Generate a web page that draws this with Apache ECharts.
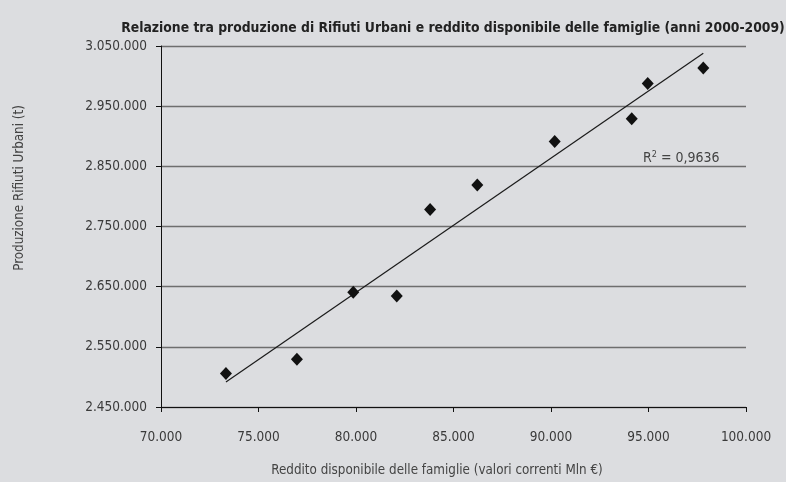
<!DOCTYPE html>
<html>
<head>
<meta charset="utf-8">
<script src="https://cdn.jsdelivr.net/npm/echarts@6/dist/echarts.min.js"></script>
<style>
  html, body { margin: 0; padding: 0; background: #dcdde0; }
  #chart { width: 786px; height: 482px; }
</style>
</head>
<body>
<div id="chart"></div>
<script>
// reddito disponibile (Mln €) e produzione RU (t), anni 2000-2009
const reddito = [73330, 76970, 79860, 82090, 83800, 86220, 90190, 94140, 94960, 97810]
const rifiuti = [2505700, 2529500, 2640700, 2634500, 2778300, 2819000, 2891200, 2929000, 2987800, 3013300]
const r2Label = '0,9636'

const FONT = '"Liberation Sans Narrow", "DejaVu Sans Condensed", "Roboto", sans-serif'

// linear trend (least squares) over the data range
const n = reddito.length
const mx = reddito.reduce((a, b) => a + b, 0) / n
const my = rifiuti.reduce((a, b) => a + b, 0) / n
let sxy = 0, sxx = 0
for (let i = 0; i < n; i++) {
  sxy += (reddito[i] - mx) * (rifiuti[i] - my)
  sxx += (reddito[i] - mx) ** 2
}
const slope = sxy / sxx
const xMin = Math.min(...reddito)
const xMax = Math.max(...reddito)
const trend = [[xMin, my + slope * (xMin - mx)], [xMax, my + slope * (xMax - mx)]]

const fmt = v => String(Math.round(v)).replace(/\B(?=(\d{3})+(?!\d))/g, '.')

const chart = echarts.init(document.getElementById('chart'))
chart.setOption({
  backgroundColor: '#dcdde0',
  animation: false,
  textStyle: { fontFamily: FONT },
  title: {
    text: 'Relazione tra produzione di Rifiuti Urbani e reddito disponibile delle famiglie (anni 2000-2009)',
    left: 448, top: 16, textAlign: 'center',
    textStyle: { fontFamily: FONT, fontSize: 13.8, fontWeight: 'bold', color: '#222' },
  },
  grid: { left: 161, right: 40, top: 46, bottom: 75 },
  xAxis: {
    type: 'value', min: 70000, max: 100000, interval: 5000,
    axisLine: { onZero: false, lineStyle: { color: '#111', width: 1 } },
    axisTick: { show: true, length: 5, lineStyle: { color: '#111' } },
    axisLabel: { formatter: fmt, fontFamily: FONT, fontSize: 13.5, color: '#3a3a3a', margin: 23 },
    splitLine: { show: false },
  },
  yAxis: {
    type: 'value', min: 2450000, max: 3050000, interval: 100000,
    axisLine: { show: true, onZero: false, lineStyle: { color: '#111', width: 1 } },
    axisTick: { show: true, length: 5, lineStyle: { color: '#111' } },
    axisLabel: { formatter: fmt, fontFamily: FONT, fontSize: 13.5, color: '#3a3a3a', margin: 14 },
    splitLine: { show: true, lineStyle: { color: '#6e6e6e', width: 1.3 } },
  },
  graphic: [
    {
      type: 'text', x: 437, y: 471,
      style: {
        text: 'Reddito disponibile delle famiglie (valori correnti Mln €)',
        font: '13.3px ' + FONT, fill: '#444', textAlign: 'center', textVerticalAlign: 'middle',
      },
    },
    {
      type: 'text', x: 20, y: 188, rotation: Math.PI / 2,
      style: {
        text: 'Produzione Rifiuti Urbani (t)',
        font: '13.3px ' + FONT, fill: '#444', textAlign: 'center', textVerticalAlign: 'middle',
      },
    },
    {
      type: 'text', left: 643, top: 150,
      style: {
        text: '{r|R}{s|2}{r| = ' + r2Label + '}',
        rich: {
          r: { fontFamily: FONT, fontSize: 14, fill: '#444' },
          s: { fontFamily: FONT, fontSize: 9, fill: '#444', verticalAlign: 'top', padding: [0, 0, 7, 0] },
        },
      },
    },
  ],
  series: [
    {
      type: 'line', data: trend, showSymbol: false, symbol: 'none',
      lineStyle: { color: '#1a1a1a', width: 1.2 }, z: 2,
    },
    {
      type: 'scatter', data: reddito.map((x, i) => [x, rifiuti[i]]),
      symbol: 'diamond', symbolSize: [12, 13],
      itemStyle: { color: '#111', opacity: 1 }, z: 3,
    },
  ],
})
</script>
</body>
</html>
